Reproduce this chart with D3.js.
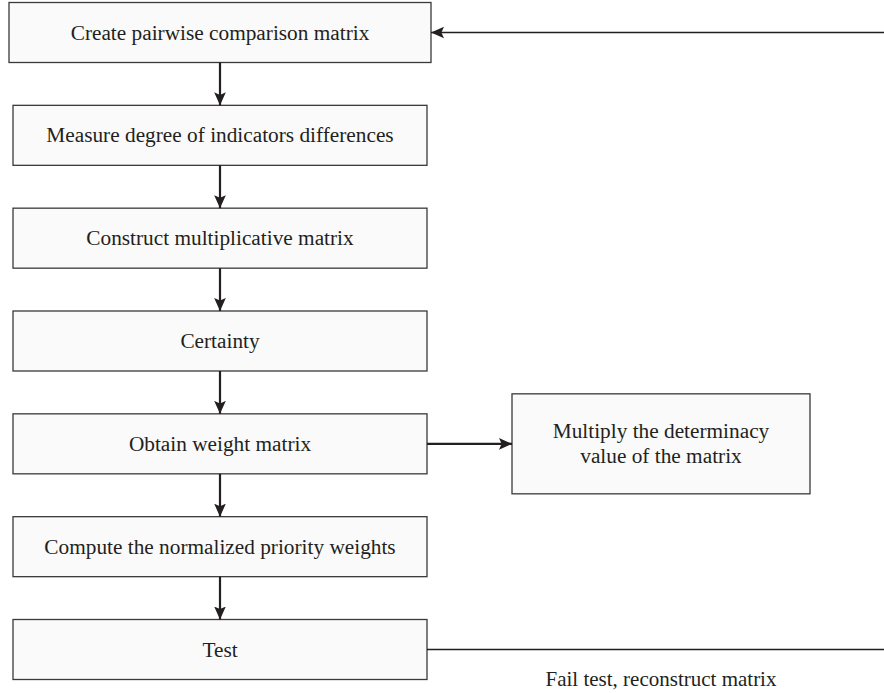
<!DOCTYPE html>
<html>
<head>
<meta charset="utf-8">
<script src="https://cdn.jsdelivr.net/npm/d3@7"></script>
<style>
  html, body { margin: 0; padding: 0; background: #ffffff; }
  svg { display: block; }
  text { font-family: "Liberation Serif", "DejaVu Serif", serif; fill: #231f20; }
</style>
</head>
<body>
<svg id="chart" width="884" height="693"></svg>
<script>
// ---- data ----
const steps = [
  "Create pairwise comparison matrix",
  "Measure degree of indicators differences",
  "Construct multiplicative matrix",
  "Certainty",
  "Obtain weight matrix",
  "Compute the normalized priority weights",
  "Test"
];
const sideStepIndex = 4;
const sideLabel = ["Multiply the determinacy", "value of the matrix"];
const feedbackLabel = "Fail test, reconstruct matrix";

// ---- layout ----
const W = 884, H = 693;
const svg = d3.select("#chart");
const boxH = 60;
const fs = 21.3;
const yTop = d3.scaleLinear().domain([0, steps.length - 1]).range([2, 619]);
const x = d3.scaleLinear().domain([0, 1]).range([13, 427]);
const cx = (x(0) + x(1)) / 2;
const col = "#231f20";

const defs = svg.append("defs");
defs.append("marker")
  .attr("id", "ah").attr("viewBox", "0 0 10 10")
  .attr("refX", 10).attr("refY", 5)
  .attr("markerWidth", 13).attr("markerHeight", 13)
  .attr("markerUnits", "userSpaceOnUse")
  .attr("orient", "auto")
  .append("path").attr("d", "M0,0.5 L10,5 L0,9.5 L2,5 Z").attr("fill", col);

// boxes
const g = svg.append("g");
const boxes = g.selectAll("g.step").data(steps).join("g").attr("class", "step");
boxes.append("rect")
  .attr("x", (d, i) => i === 0 ? x(0) - 4 : x(0))
  .attr("width", (d, i) => i === 0 ? x(1) - x(0) + 8 : x(1) - x(0))
  .attr("y", (d, i) => yTop(i) + 0.5)
  .attr("height", boxH)
  .attr("fill", "#fafafa").attr("stroke", "#3a3a3a").attr("stroke-width", 1.3);
boxes.append("text")
  .attr("x", cx).attr("y", (d, i) => yTop(i) + boxH / 2 + 0.5)
  .attr("text-anchor", "middle").attr("dominant-baseline", "central")
  .attr("font-size", fs)
  .text(d => d);

// vertical arrows
g.selectAll("line.down").data(d3.range(steps.length - 1)).join("line")
  .attr("class", "down")
  .attr("x1", cx).attr("x2", cx)
  .attr("y1", i => yTop(i) + boxH + 0.5)
  .attr("y2", i => yTop(i + 1) + 0.5)
  .attr("stroke", col).attr("stroke-width", 2.2)
  .attr("marker-end", "url(#ah)");

// side box
const sx = d3.scaleLinear().domain([0, 1]).range([512, 810]);
const sideCy = yTop(sideStepIndex) + boxH / 2 + 0.5;
svg.append("rect")
  .attr("x", sx(0)).attr("width", sx(1) - sx(0))
  .attr("y", sideCy - 50).attr("height", 100)
  .attr("fill", "#fafafa").attr("stroke", "#3a3a3a").attr("stroke-width", 1.3);
svg.selectAll("text.side").data(sideLabel).join("text")
  .attr("class", "side")
  .attr("x", (sx(0) + sx(1)) / 2)
  .attr("y", (d, i) => sideCy + (i - 0.5) * 25)
  .attr("text-anchor", "middle").attr("dominant-baseline", "central")
  .attr("font-size", fs)
  .text(d => d);
svg.append("line")
  .attr("x1", x(1)).attr("x2", sx(0))
  .attr("y1", sideCy).attr("y2", sideCy)
  .attr("stroke", col).attr("stroke-width", 2.2)
  .attr("marker-end", "url(#ah)");

// feedback lines
const testCy = yTop(steps.length - 1) + boxH / 2 + 0.5;
svg.append("line")
  .attr("x1", x(1)).attr("x2", W)
  .attr("y1", testCy).attr("y2", testCy)
  .attr("stroke", col).attr("stroke-width", 1.5);
svg.append("text")
  .attr("x", 661).attr("y", testCy + 29)
  .attr("text-anchor", "middle").attr("dominant-baseline", "central")
  .attr("font-size", 21)
  .text(feedbackLabel);
const firstCy = yTop(0) + boxH / 2 + 0.5;
svg.append("line")
  .attr("x1", W).attr("x2", x(1) + 4)
  .attr("y1", firstCy).attr("y2", firstCy)
  .attr("stroke", col).attr("stroke-width", 1.5)
  .attr("marker-end", "url(#ah)");
</script>
</body>
</html>
